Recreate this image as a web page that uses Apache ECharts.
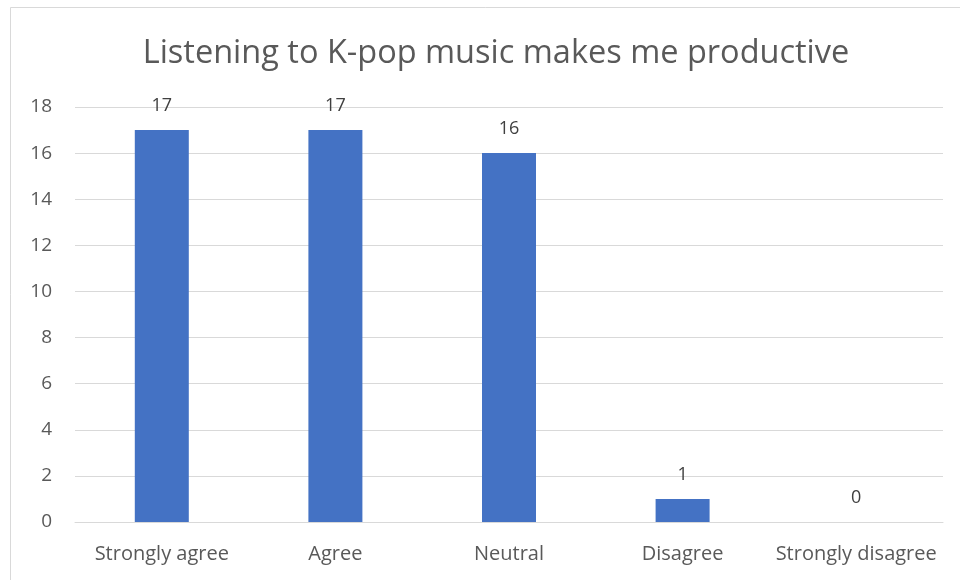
<!DOCTYPE html>
<html>
<head>
<meta charset="utf-8">
<script src="https://cdn.jsdelivr.net/npm/echarts@6/dist/echarts.min.js"></script>
<style>
  html, body { margin: 0; padding: 0; background: #fff; }
  #chart { width: 960px; height: 580px; }
</style>
</head>
<body>
<div id="chart"></div>
<script>
// Survey responses: "Listening to K-pop music makes me productive"
const categories = ['Strongly agree', 'Agree', 'Neutral', 'Disagree', 'Strongly disagree'];
const responseCounts = [17, 17, 16, 1, 0];
const yTicks = [0, 2, 4, 6, 8, 10, 12, 14, 16, 18];

const textFont = '"Open Sans", Lato, sans-serif';
const textColor = '#595959';

const chart = echarts.init(document.getElementById('chart'));
chart.setOption({
  animation: false,
  backgroundColor: '#ffffff',
  graphic: [{
    type: 'rect',
    shape: { x: 10.5, y: 7.5, width: 980, height: 600 },
    style: { fill: 'none', stroke: '#d9d9d9', lineWidth: 1 },
    silent: true,
    z: -1
  }],
  title: {
    text: 'Listening to K-pop music makes me productive',
    left: 491,
    textAlign: 'center',
    top: 32,
    textStyle: { fontFamily: textFont, fontSize: 32.5, fontWeight: 'normal', color: textColor }
  },
  grid: { left: 75, right: 17, top: 107, bottom: 58, containLabel: false },
  xAxis: {
    type: 'category',
    data: categories,
    axisLine: { show: true, lineStyle: { color: '#d9d9d9', width: 1 } },
    axisTick: { show: false },
    axisLabel: { fontFamily: textFont, fontSize: 20, color: textColor, margin: 22, interval: 0 }
  },
  yAxis: {
    type: 'value',
    min: yTicks[0],
    max: yTicks[yTicks.length - 1],
    interval: yTicks[1] - yTicks[0],
    axisLine: { show: false },
    axisTick: { show: false },
    splitLine: { lineStyle: { color: '#d9d9d9', width: 1 } },
    axisLabel: { fontFamily: textFont, fontSize: 19, color: textColor, margin: 23 }
  },
  series: [{
    type: 'bar',
    data: responseCounts,
    barWidth: 54,
    itemStyle: { color: '#4472c4' },
    label: {
      show: true,
      position: 'top',
      distance: 15,
      fontFamily: textFont,
      fontSize: 18,
      color: '#404040'
    }
  }]
});
</script>
</body>
</html>
